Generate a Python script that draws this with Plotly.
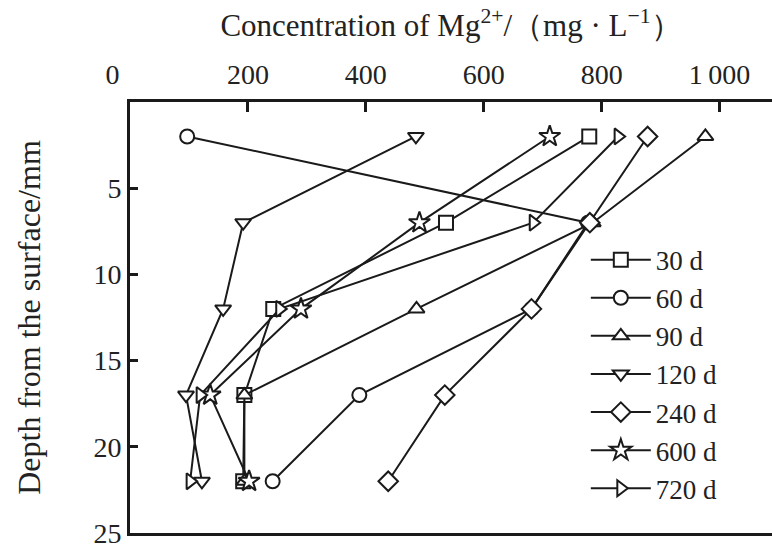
import plotly.graph_objects as go

depth = [2, 7, 12, 17, 22]
series_names = ["30 d", "60 d", "90 d", "120 d", "240 d", "600 d", "720 d"]
mg_30d = [779, 536, 243, 194, 192]
mg_60d = [97, 777, 681, 389, 242]
mg_90d = [976, 785, 486, 194, 194]
mg_120d = [485, 192, 158, 95, 122]
mg_240d = [878, 780, 681, 534, 438]
mg_600d = [712, 491, 290, 136, 202]
mg_720d = [828, 684, 254, 119, 102]
symbols = ["square", "circle", "triangle-up", "triangle-down", "diamond", "star", "triangle-right"]

x_ticks = [0, 200, 400, 600, 800, 1000]
x_ticktext = ["0\u00a0\u00a0\u00a0\u00a0\u00a0", "200", "400", "600", "800", "1\u2009000"]
y_ticks = [5, 10, 15, 20, 25]

values = [mg_30d, mg_60d, mg_90d, mg_120d, mg_240d, mg_600d, mg_720d]
sizes = [14, 14, 14, 14, 15, 16, 14]

INK = "#1a1a1a"
FONT = "Liberation Serif"

fig = go.Figure()
for i, (name, vals, sym) in enumerate(zip(series_names, values, symbols)):
    fig.add_trace(go.Scatter(
        x=vals, y=depth, name=name, mode="lines+markers",
        legendgroup=name,
        line=dict(color=INK, width=2),
        marker=dict(symbol=sym, size=sizes[i], color="white",
                    line=dict(color=INK, width=2)),
    ))

fig.update_layout(
    width=772, height=550,
    margin=dict(l=130, r=0, t=102, b=17),
    paper_bgcolor="white", plot_bgcolor="white",
    font=dict(family=FONT, size=28, color="#222"),
    showlegend=True,
    legend=dict(x=0.71, y=0.69, xanchor="left", yanchor="top",
                bgcolor="rgba(0,0,0,0)", font=dict(size=27),
                itemwidth=60, tracegroupgap=0, traceorder="grouped"),
    xaxis=dict(
        side="top", range=[0, 1089], tickvals=x_ticks, ticktext=x_ticktext,
        showline=True, linecolor=INK, linewidth=3, mirror=True,
        ticks="inside", ticklen=10, tickwidth=3, tickcolor=INK,
        ticklabelstandoff=4,
        showgrid=False, zeroline=False,
        title=dict(text="Concentration of Mg<sup>2+</sup>/（mg · L<sup>−1</sup>）",
                   standoff=13, font=dict(size=31)),
    ),
    yaxis=dict(
        range=[25, 0], tickvals=y_ticks,
        showline=True, linecolor=INK, linewidth=3,
        ticks="inside", ticklen=8, tickwidth=3, tickcolor=INK,
        showgrid=False, zeroline=False,
        title=dict(text="Depth from the surface/mm", standoff=44, font=dict(size=32)),
    ),
)

fig.write_html("out.html")
